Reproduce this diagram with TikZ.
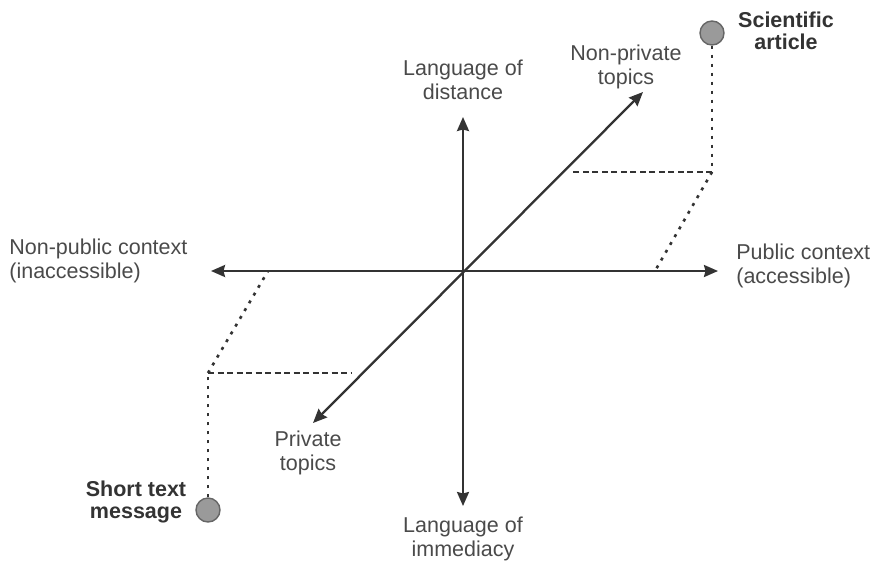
\documentclass[tikz,border=0pt]{standalone}
\usepackage{fontspec}
\setmainfont{Liberation Sans}
\usetikzlibrary{arrows.meta}
\definecolor{axisgray}{HTML}{333333}
\definecolor{textgray}{HTML}{4A4A4A}
\definecolor{dotgray}{HTML}{9A9A9A}
\tikzset{every picture/.style={line width=0.75pt}}
\tikzset{
	axisarrow/.style={draw=axisgray,line width=2.3pt,{Stealth[length=14pt,width=12pt,inset=1.5pt]}-{Stealth[length=14pt,width=12pt,inset=1.5pt]}},
	axislabel/.style={text=textgray,font=\fontsize{21.5}{23.5}\selectfont,align=center,inner sep=0pt},
	docname/.style={text=axisgray,font=\fontsize{21.5}{22.5}\selectfont\bfseries,align=center,inner sep=0pt},
	vdots/.style={draw=axisgray,line width=2.6pt,dash pattern=on 3pt off 6pt},
	hdash/.style={draw=axisgray,line width=2.3pt,dash pattern=on 6pt off 3.5pt},
	docpoint/.style={circle,draw=gray!80!black,fill=dotgray,line width=1.4pt,minimum size=24pt,inner sep=0pt},
}

\begin{document}
\begin{tikzpicture}[x=1pt,y=-1pt]
	\useasboundingbox (0,0) rectangle (875,563);
	\coordinate (O) at (463,271); %Mitte
	\coordinate (west) at (211,271);
	\coordinate (east) at (718,271);
	\coordinate (north) at (463,117);
	\coordinate (south) at (463,506);
	\coordinate (sw) at (313,423);
	\coordinate (ne) at (643,92);
	\draw[axisarrow] (west)--(east); %oeffentlich
	\draw[axisarrow] (south)--(north); %Distanz
	\draw[axisarrow] (sw)--(ne); %Themen
	% Achsenbeschriftung
	\node[axislabel] (distance) at (463,80) {Language of\\distance};
	\node[axislabel] (immediacy) at (463,539) {Language of\\immediacy};
	\node[axislabel,align=left,anchor=west] (nonpublic) at (9,261) {Non-public context\\(inaccessible)};
	\node[axislabel,align=left,anchor=west] (public) at (736,266) {Public context\\(accessible)};
	\node[axislabel] (nonprivate) at (626,67) {Non-private\\topics};
	\node[axislabel] (private) at (308,453) {Private\\topics};
	% Scientific article
	\node[docpoint] (sci) at (712,33) {};
	\node[docname] (sciname) at (786,31) {Scientific\\article};
	\coordinate (scicorner) at (712,172);
	\coordinate (scitopic) at (570,172);
	\coordinate (scipublic) at (655,271);
	\draw[vdots] (sci.south)--(scicorner);
	\draw[hdash] (scicorner)--(scitopic);
	\draw[vdots] (scicorner)--(scipublic);
	% Short text message
	\node[docpoint] (sms) at (208,510) {};
	\node[docname] (smsname) at (136,502) {Short text\\message};
	\coordinate (smscorner) at (208,373);
	\coordinate (smstopic) at (352,373);
	\coordinate (smspublic) at (268,271);
	\draw[vdots] (sms.north)--(smscorner);
	\draw[hdash] (smscorner)--(smstopic);
	\draw[vdots] (smscorner)--(smspublic);
\end{tikzpicture}
\end{document}
